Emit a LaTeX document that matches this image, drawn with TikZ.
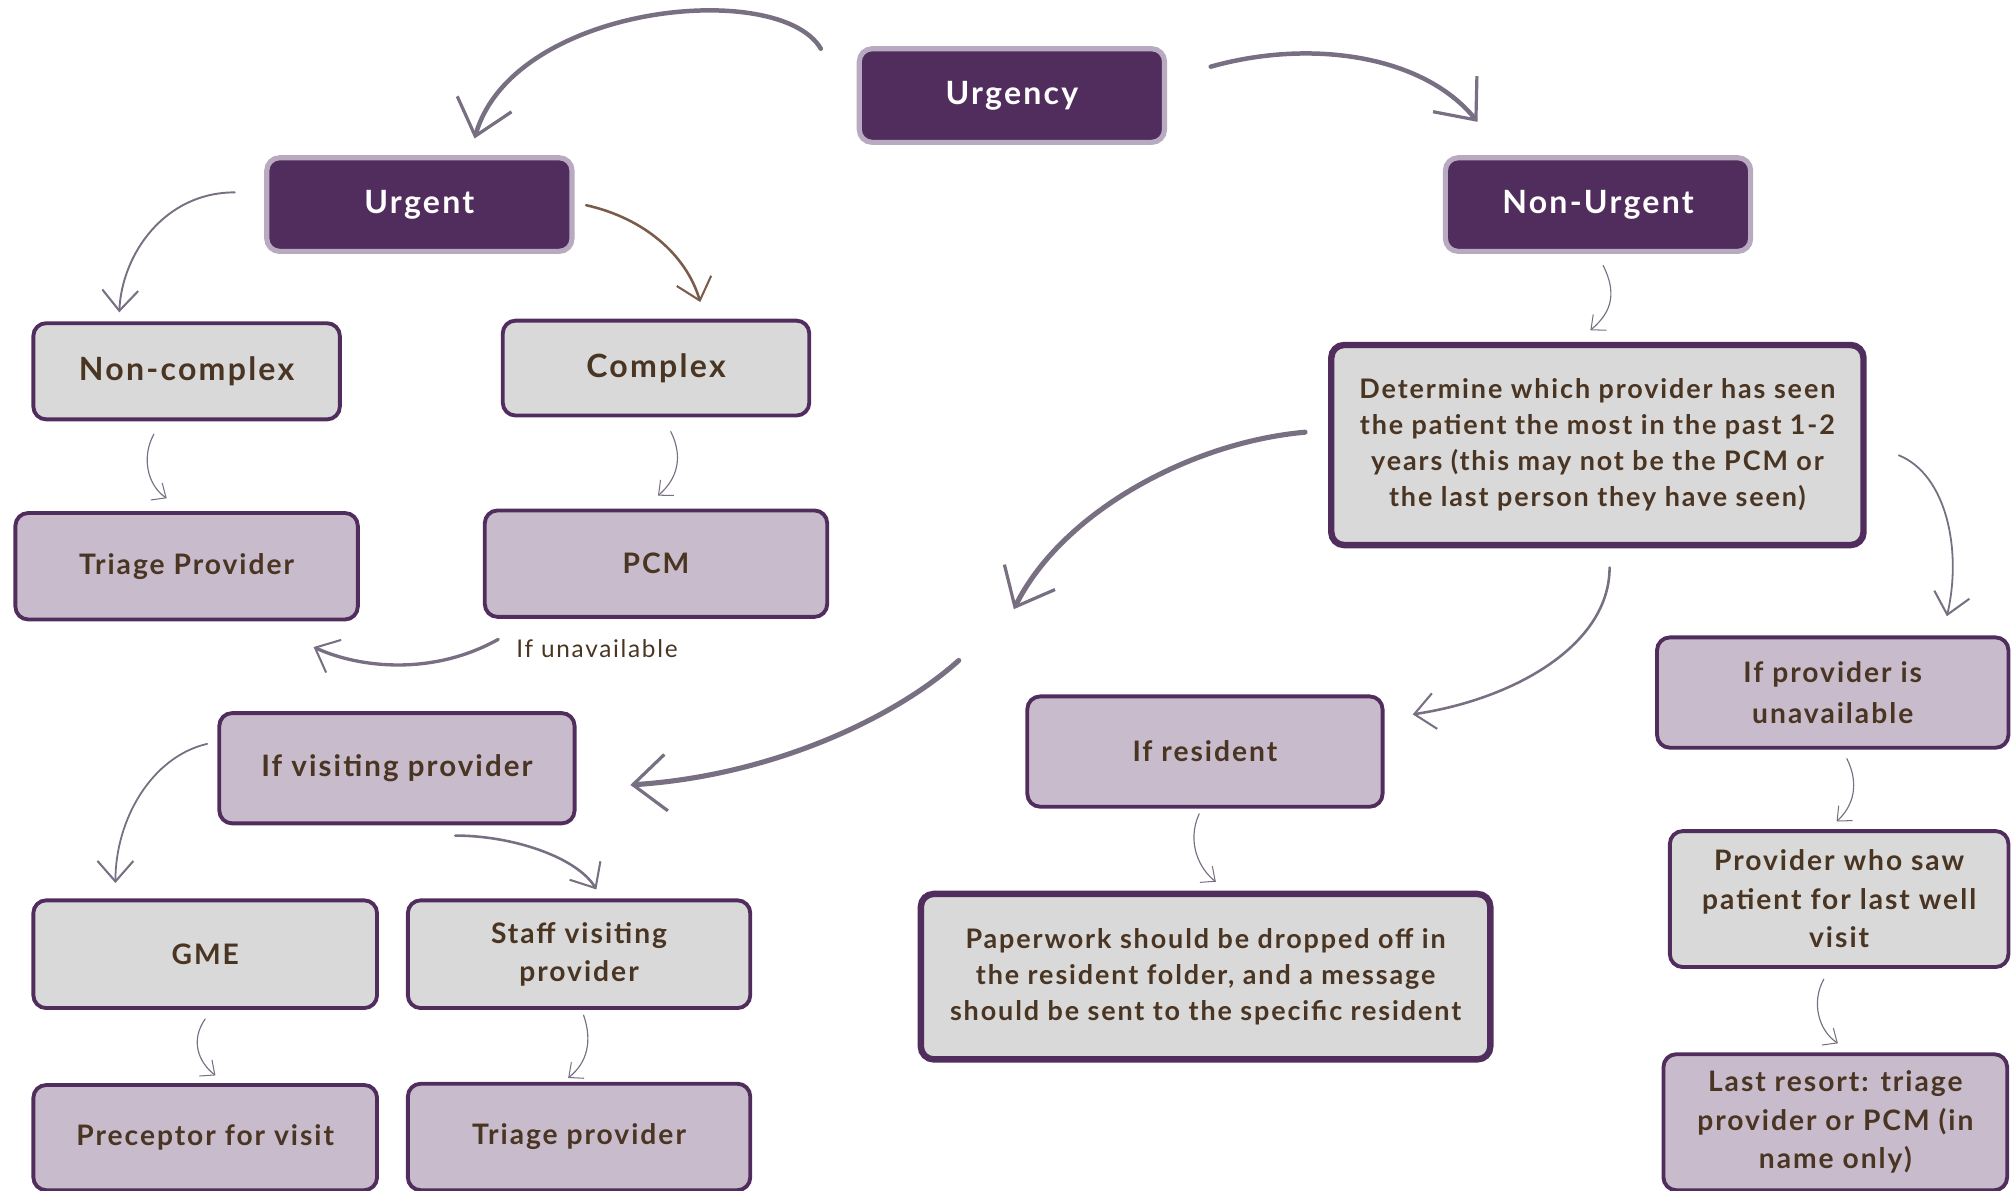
\documentclass[tikz,border=0pt]{standalone}
\usepackage{fontspec}
\setmainfont{Lato}[LetterSpace=7]
\usetikzlibrary{arrows.meta,calc}
\definecolor{dpurple}{RGB}{81,45,94}
\definecolor{lborder}{RGB}{184,170,192}
\definecolor{greyfill}{RGB}{217,217,217}
\definecolor{lilac}{RGB}{200,188,204}
\definecolor{txtbrown}{RGB}{74,53,34}
\definecolor{arrgrey}{RGB}{120,112,130}
\definecolor{arrbrown}{RGB}{122,92,76}
\tikzset{
  basebox/.style={rectangle, rounded corners=10pt, align=center, inner sep=4pt, font=\bfseries\fontsize{22}{30}\selectfont},
  darkbox/.style={basebox, fill=dpurple, draw=lborder, line width=4pt, text=white, minimum width=238pt, minimum height=73pt, font=\bfseries\fontsize{25}{30}\selectfont},
  greybox/.style={basebox, fill=greyfill, draw=dpurple, line width=3pt, text=txtbrown},
  lilacbox/.style={basebox, fill=lilac, draw=dpurple, line width=3pt, text=txtbrown},
  thickarr/.style={draw=arrgrey, line width=3.5pt, line cap=round, -{Straight Barb[length=26pt,width=44pt,line width=2.5pt]}},
  medarr/.style={draw=arrgrey, line width=2pt, line cap=round, -{Straight Barb[length=16pt,width=28pt,line width=1.6pt]}},
  thinarr/.style={draw=arrgrey, line width=0.9pt, line cap=round, -{Straight Barb[length=9pt,width=16pt,line width=0.8pt]}}
}
\begin{document}
\begin{tikzpicture}[x=1pt,y=-1pt]
\useasboundingbox (0,0) rectangle (1568,928);
% top level
\node[darkbox] (urgency) at (789,74.5) {Urgency};
\node[darkbox] (urgent) at (327,159.5) {Urgent};
\node[darkbox] (nonurgent) at (1246,159.5) {Non-Urgent};
% urgent branch
\node[greybox, minimum width=239pt, minimum height=75pt, font=\bfseries\fontsize{25}{30}\selectfont] (noncomplex) at (145.5,289.5) {Non-complex};
\node[greybox, minimum width=239pt, minimum height=74pt, font=\bfseries\fontsize{25}{30}\selectfont] (complex) at (511.5,287) {Complex};
\node[lilacbox, minimum width=267pt, minimum height=83pt] (triageP) at (145.5,441.5) {Triage Provider};
\node[lilacbox, minimum width=267pt, minimum height=83pt] (pcm) at (511.5,439.5) {PCM};
\node[lilacbox, minimum width=277pt, minimum height=86pt, font=\bfseries\fontsize{23}{30}\selectfont] (visiting) at (309.5,599) {If visiting provider};
\node[greybox, minimum width=268pt, minimum height=84pt] (gme) at (160,744) {GME};
\node[greybox, minimum width=267pt, minimum height=84pt] (staff) at (451.5,744) {Staff visiting\\provider};
\node[lilacbox, minimum width=268pt, minimum height=82pt] (preceptor) at (160,887) {Preceptor for visit};
\node[lilacbox, minimum width=267pt, minimum height=83pt] (triage2) at (451.5,886.5) {Triage provider};
% non-urgent branch
\node[greybox, line width=5pt, minimum width=415pt, minimum height=156pt, font=\bfseries\fontsize{21}{28}\selectfont] (determine) at (1245.5,347) {Determine which provider has seen\\the patient the most in the past 1-2\\years (this may not be the PCM or\\the last person they have seen)};
\node[lilacbox, minimum width=277pt, minimum height=86pt] (resident) at (939.5,586) {If resident};
\node[greybox, line width=5pt, minimum width=444pt, minimum height=129pt, font=\bfseries\fontsize{21}{28}\selectfont] (paperwork) at (940,761.5) {Paperwork should be dropped off in\\the resident folder, and a message\\should be sent to the specific resident};
\node[lilacbox, minimum width=274pt, minimum height=86pt, font=\bfseries\fontsize{22}{32}\selectfont] (unavail) at (1429,540) {If provider is\\unavailable};
\node[greybox, minimum width=264pt, minimum height=106pt] (provsaw) at (1434,701) {Provider who saw\\patient for last well\\visit};
\node[lilacbox, minimum width=268pt, minimum height=106pt] (lastresort) at (1431,875) {Last resort: triage\\provider or PCM (in\\name only)};
% label
\node[anchor=west, inner sep=0pt, text=txtbrown, font=\fontsize{19}{22}\selectfont] (unlabel) at ($(pcm.south west)+(26,23)$) {If unavailable};
% free-end coordinates of the two-part arrow
\coordinate (bend1) at ($(determine.west)+(-245,128)$);
\coordinate (bend2) at ($(determine.west)+(-288,168)$);
% connectors
\draw[thickarr] ($(urgency.north west)+(-28,2)$) .. controls +(-32,-55) and +(30,-105) .. ($(urgent.north)+(43,-13)$);
\draw[thickarr] ($(urgency.east)+(34,-22.5)$) .. controls +(78,-22) and +(-42,-52) .. ($(nonurgent.north)+(-94,-26)$);
\draw[medarr, line width=1.5pt] ($(urgent.west)+(-23,-9.5)$) .. controls +(-55,0) and +(2,-45) .. ($(noncomplex.north)+(-52.5,-7)$);
\draw[medarr, draw=arrbrown] ($(urgent.east)+(9,0.5)$) .. controls +(45,10) and +(-11,-37) .. ($(complex.north)+(34.5,-13)$);
\draw[thinarr] ($(noncomplex.south)+(-25.5,10)$) .. controls +(-10,18) and +(-15,-10) .. ($(triageP.north)+(-15.5,-10)$);
\draw[thinarr] ($(complex.south)+(11.5,11)$) .. controls +(10,20) and +(15,-13) .. ($(pcm.north)+(1.5,-10)$);
\draw[medarr, line width=2.6pt] ($(pcm.south west)+(12,16)$) .. controls +(-50,28) and +(37,17) .. ($(triageP.south east)+(-36,20)$);
\draw[thinarr] ($(nonurgent.south)+(4,9)$) .. controls +(10,20) and +(18,-15) .. ($(determine.north)+(-5.5,-9)$);
\draw[thickarr, line width=4pt] ($(determine.west)+(-18,-10)$) .. controls +(-90,8) and +(37,-75) .. (bend1);
\draw[thickarr, line width=4pt] (bend2) .. controls +(-50,45) and +(110,-7) .. ($(visiting.east)+(42,13)$);
\draw[medarr] ($(determine.south)+(9.5,15)$) .. controls +(0,60) and +(80,-12) .. ($(resident.east)+(22,-29)$);
\draw[medarr, line width=1.4pt] ($(determine.east)+(25,8)$) .. controls +(37,15) and +(12,-52) .. ($(unavail.north)+(89,-15)$);
\draw[thinarr] ($(resident.south)+(-4.5,4)$) .. controls +(-10,22) and +(-13,-10) .. ($(paperwork.north)+(8,-7)$);
\draw[thinarr] ($(unavail.south)+(11,7)$) .. controls +(10,20) and +(13,-12) .. ($(provsaw.north)+(-2,-6)$);
\draw[thinarr] ($(provsaw.south)+(-12,8)$) .. controls +(-10,18) and +(-15,-10) .. ($(lastresort.north)+(2,-7)$);
\draw[medarr, line width=1.4pt] ($(visiting.west)+(-8,-19)$) .. controls +(-43,10) and +(0,-50) .. ($(gme.north)+(-70,-12)$);
\draw[medarr] ($(visiting.south)+(45.5,8)$) .. controls +(45,0) and +(-15,-25) .. ($(staff.north)+(13.5,-7)$);
\draw[thinarr] ($(gme.south)+(0,7)$) .. controls +(-12,17) and +(-13,-10) .. ($(preceptor.north)+(8,-6)$);
\draw[thinarr] ($(staff.south)+(3.5,4)$) .. controls +(7,20) and +(15,-12) .. ($(triage2.north)+(-8.5,-3)$);
\end{tikzpicture}
\end{document}
